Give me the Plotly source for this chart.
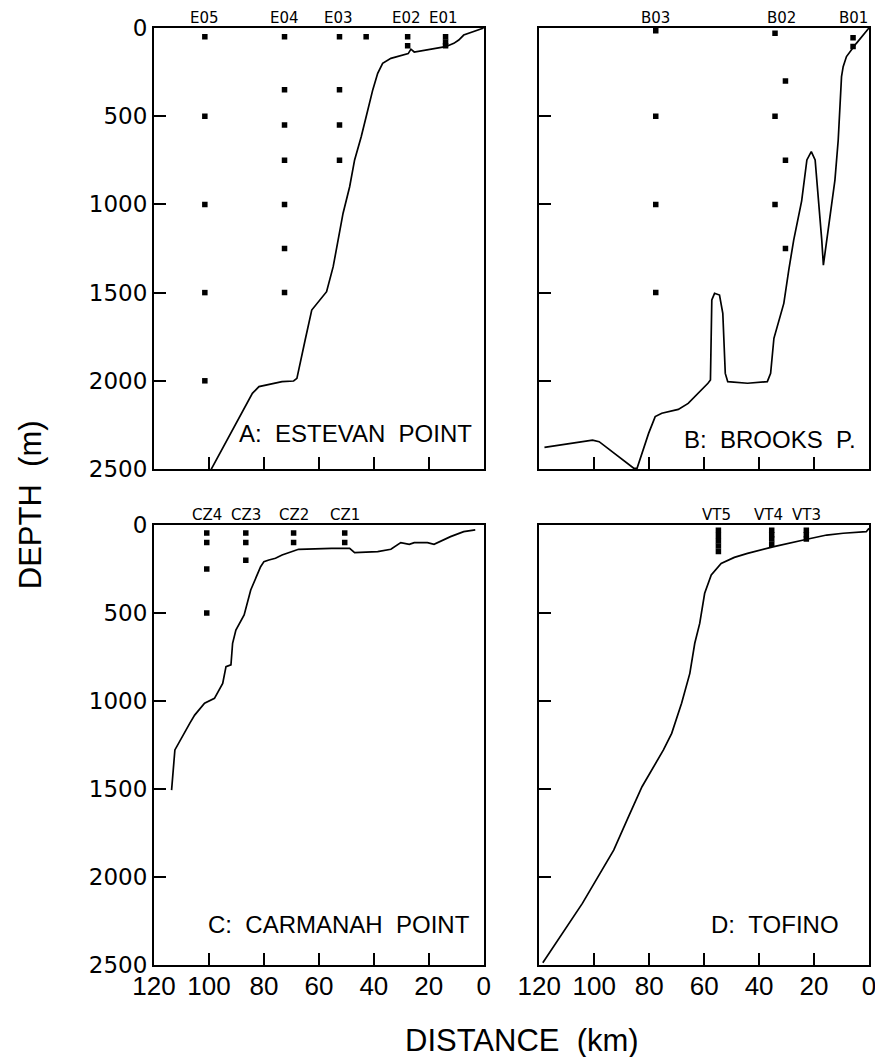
import plotly.graph_objects as go

# ---------------- data ----------------
# Panel A: Estevan Point
distA = [0, 7.3, 9.1, 10.9, 13.9, 20, 25.3, 26.5, 27.5, 33.8, 36.8, 38.6, 40.4, 42.8, 44.6, 47, 48.8,
         51.2, 53.6, 54.8, 57.2, 60.2, 62.6, 65, 68, 69.2, 73.4, 81.8, 84.2, 99.2]
depthA = [0, 40, 68, 87, 106, 122, 136, 120, 145, 172, 200, 257, 351, 503, 616, 748, 900,
          1050, 1240, 1353, 1495, 1551, 1599, 1769, 1986, 2001, 2005, 2033, 2071, 2502]
sampA_x = [101.5] * 5 + [72.5] * 7 + [52.5] * 4 + [42.8] + [27.7] * 2 + [13.9] * 3
sampA_y = [50, 500, 1000, 1500, 2000] + [50, 350, 550, 750, 1000, 1250, 1500] + \
          [50, 350, 550, 750] + [50] + [50, 100] + [50, 80, 100]
stnA_names = ["E05", "E04", "E03", "E02", "E01"]
stnA_x = [101.5, 72.5, 52.8, 28.0, 14.5]

# Panel B: Brooks Peninsula
distB = [0, 4.6, 8.2, 9.4, 10, 11.2, 12.4, 14.2, 15.2, 16.6, 17.2, 18.2, 19.6, 21, 22.6, 24.5, 27.4,
         29.2, 31, 34.6, 35.8, 37, 44.2, 51.4, 52.3, 53.2, 54.4, 56.2, 57.2, 57.7, 58.6,
         65.8, 69.4, 75.4, 77.8, 80.2, 84.4, 85.6, 98.2, 100.6, 118.1]
depthB = [0, 87, 162, 219, 276, 635, 862, 1070, 1200, 1344, 1200, 1000, 748, 701, 748, 980, 1202,
          1372, 1561, 1759, 1958, 2005, 2014, 2005, 1958, 1617, 1514, 1504, 1542, 1995, 2014,
          2128, 2162, 2184, 2203, 2298, 2496, 2496, 2345, 2336, 2377]
sampB_x = [77.6] * 4 + [34.2] * 3 + [30.4] * 3 + [5.8] * 2
sampB_y = [15, 500, 1000, 1500] + [30, 500, 1000] + [300, 750, 1250] + [55, 105]
stnB_names = ["B03", "B02", "B01"]
stnB_x = [77.6, 31.8, 5.8]

# Panel C: Carmanah Point
distC = [3.1, 7.3, 12.1, 15.7, 18.1, 20.5, 25.3, 27.1, 30.2, 33.8, 38.6, 47, 48.8, 55.4, 67.4, 73.4,
         75.8, 78.2, 80, 81.2, 83, 84.8, 87.2, 90.2, 91.4, 92, 93.8, 95, 98, 101.6, 105.2, 107,
         112.4, 113.6]
depthC = [28, 38, 66, 95, 110, 100, 100, 110, 100, 138, 151, 157, 133, 133, 138, 170,
          189, 199, 208, 237, 303, 369, 511, 597, 672, 795, 805, 900, 985, 1013, 1080, 1127,
          1278, 1506]
sampC_x = [100.8] * 4 + [86.6] * 3 + [69.2] * 2 + [50.6] * 2
sampC_y = [45, 100, 250, 500] + [45, 100, 200] + [45, 100] + [45, 100]
stnC_names = ["CZ4", "CZ3", "CZ2", "CZ1"]
stnC_x = [100.8, 86.6, 69.2, 50.6]

# Panel D: Tofino
distD = [0, 1, 9.4, 15.4, 22.6, 34.6, 44.2, 49, 53.8, 57.4, 59.8, 61.6, 63.4, 65.2, 68.2, 71.8,
         74.8, 82.6, 87.5, 92.9, 104.3, 118.7]
depthD = [19, 38, 47, 57, 81, 123, 161, 184, 218, 284, 388, 559, 672, 843, 1013, 1184,
          1278, 1487, 1657, 1847, 2150, 2487]
sampD_x = [54.8] * 5 + [35.4] * 4 + [22.8] * 3
sampD_y = [30, 60, 90, 120, 150] + [30, 55, 80, 110] + [30, 55, 80]
stnD_names = ["VT5", "VT4", "VT3"]
stnD_x = [55.6, 36.4, 22.8]

panel_titles = ["A:\u00a0\u00a0ESTEVAN\u00a0\u00a0POINT", "B:\u00a0\u00a0BROOKS\u00a0\u00a0P.",
                "C:\u00a0\u00a0CARMANAH\u00a0\u00a0POINT", "D:\u00a0\u00a0TOFINO"]
x_ticks = [120, 100, 80, 60, 40, 20, 0]
y_ticks = [0, 500, 1000, 1500, 2000, 2500]

# ---------------- figure ----------------
fig = go.Figure()

panels = [
    (distA, depthA, sampA_x, sampA_y, stnA_names, stnA_x, "x", "y"),
    (distB, depthB, sampB_x, sampB_y, stnB_names, stnB_x, "x2", "y2"),
    (distC, depthC, sampC_x, sampC_y, stnC_names, stnC_x, "x3", "y3"),
    (distD, depthD, sampD_x, sampD_y, stnD_names, stnD_x, "x4", "y4"),
]

annotations = []
label_shift = [(-10, 20), (-11, 14), (-12, 25), (-28, 25)]
for i, (dx, dy, sx, sy, names, nx, xa, ya) in enumerate(panels):
    fig.add_trace(go.Scatter(x=dx, y=dy, mode="lines", line=dict(color="black", width=1.7),
                             xaxis=xa, yaxis=ya, showlegend=False, hoverinfo="skip"))
    fig.add_trace(go.Scatter(x=sx, y=sy, mode="markers",
                             marker=dict(symbol="square", size=5.5, color="black"),
                             xaxis=xa, yaxis=ya, showlegend=False, hoverinfo="skip"))
    yd = ya + " domain"
    for name, xv in zip(names, nx):
        annotations.append(dict(text=name, x=xv, xref=xa, y=1, yref=yd, xanchor="center",
                                yanchor="bottom", yshift=0, borderpad=0, showarrow=False,
                                font=dict(family="DejaVu Sans", size=15, color="black")))
    xd = xa + " domain"
    annotations.append(dict(text=panel_titles[i], x=1, xref=xd, y=0, yref=yd,
                            xanchor="right", yanchor="bottom", xshift=label_shift[i][0],
                            yshift=label_shift[i][1], showarrow=False,
                            font=dict(family="Liberation Sans", size=24, color="black")))

# page body has an 8px margin, so the figure is sized/offset to compensate
W, H = 875, 1049
L, R, T, B = 146, 7, 20, 92
pw, ph = W - L - R, H - T - B
x_left_end = 333
x_right_start = 389
y_top_bottom = 496
y_bot_top = 440

annotations.append(dict(text="DEPTH\u00a0\u00a0(m)", x=(29 - 154) / pw, xref="paper",
                        y=(965 - 505) / ph, yref="paper",
                        xanchor="center", yanchor="middle", textangle=-90, showarrow=False,
                        font=dict(family="Liberation Sans", size=31, color="black")))
annotations.append(dict(text="DISTANCE\u00a0\u00a0(km)", x=(526 - 154) / pw, xref="paper",
                        y=(965 - 1040) / ph, yref="paper",
                        xanchor="center", yanchor="middle", showarrow=False,
                        font=dict(family="Liberation Sans", size=31, color="black")))

xdomL = [0, x_left_end / pw]
xdomR = [x_right_start / pw, 1]
ydomT = [y_top_bottom / ph, 1]
ydomB = [0, y_bot_top / ph]

def xax(domain, labels):
    return dict(domain=domain, range=[120, 0], tickvals=x_ticks, ticktext=[str(v) for v in x_ticks],
                ticks="inside", ticklen=12, tickwidth=1.5, tickcolor="black",
                showline=True, linewidth=2, linecolor="black", mirror=True,
                showgrid=False, zeroline=False, showticklabels=labels,
                ticklabelstandoff=-3,
                tickfont=dict(family="Liberation Sans", size=26, color="black"))

def yax(domain, labels, anchor):
    return dict(domain=domain, range=[2500, 0], tickvals=y_ticks, ticktext=[str(v) for v in y_ticks],
                ticks="inside", ticklen=12, tickwidth=1.5, tickcolor="black",
                showline=True, linewidth=2, linecolor="black", mirror=True,
                showgrid=False, zeroline=False, showticklabels=labels, anchor=anchor,
                ticklabelstandoff=0,
                tickfont=dict(family="DejaVu Sans", size=23, color="black"))

fig.update_layout(
    width=W, height=H,
    margin=dict(l=L, r=R, t=T, b=B),
    paper_bgcolor="white", plot_bgcolor="white",
    xaxis=dict(**xax(xdomL, False), anchor="y"),
    yaxis=yax(ydomT, True, "x"),
    xaxis2=dict(**xax(xdomR, False), anchor="y2"),
    yaxis2=yax(ydomT, False, "x2"),
    xaxis3=dict(**xax(xdomL, True), anchor="y3"),
    yaxis3=yax(ydomB, True, "x3"),
    xaxis4=dict(**xax(xdomR, True), anchor="y4"),
    yaxis4=yax(ydomB, False, "x4"),
    annotations=annotations,
    showlegend=False,
)

fig.write_html("out.html")
